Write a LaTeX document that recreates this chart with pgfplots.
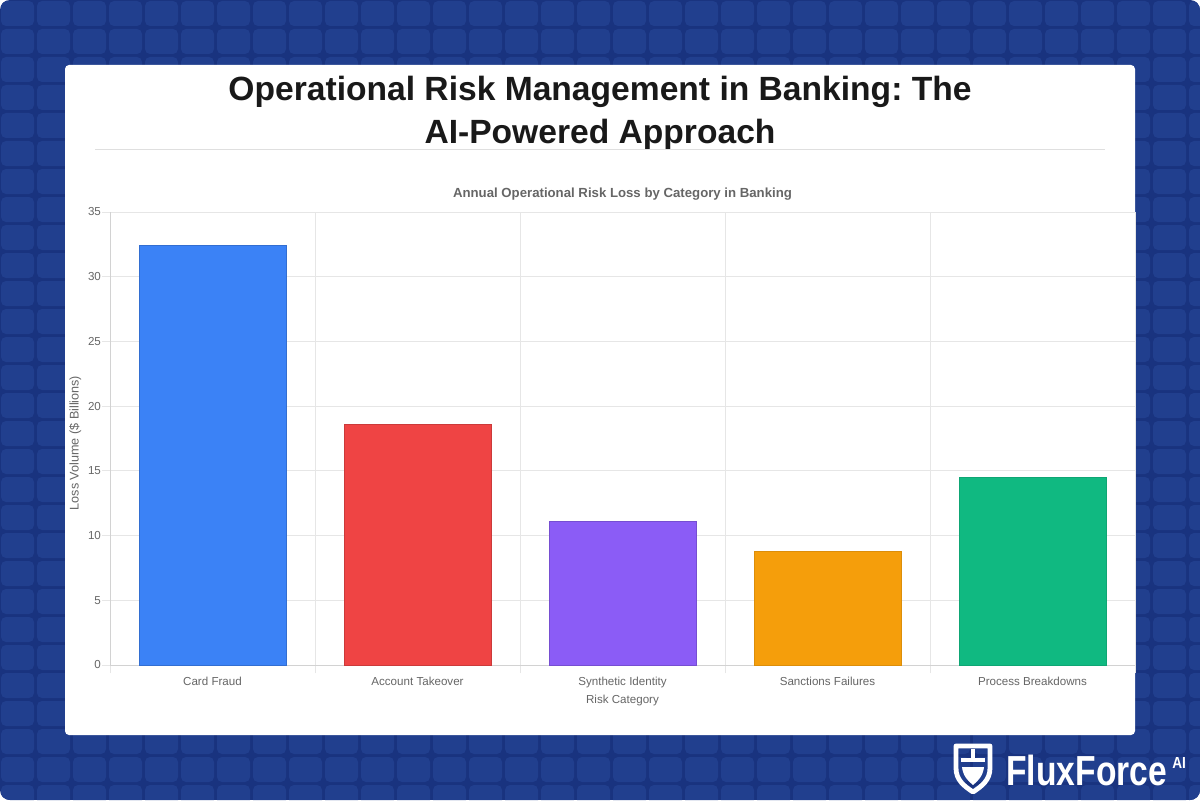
\documentclass[border=0pt]{standalone}
\usepackage{fontspec}
\setmainfont{Liberation Sans}
\usepackage{pgfplots}
\pgfplotsset{compat=1.18}
\definecolor{bgdark}{HTML}{19337F}
\definecolor{bgtile}{HTML}{213F8E}
\definecolor{cblue}{HTML}{3B82F6}
\definecolor{cred}{HTML}{EF4444}
\definecolor{cpurple}{HTML}{8B5CF6}
\definecolor{corange}{HTML}{F59E0B}
\definecolor{cgreen}{HTML}{10B981}
\definecolor{txtgray}{HTML}{666666}
\definecolor{gridgray}{HTML}{E6E6E6}
\frenchspacing
\begin{document}
\begin{tikzpicture}[x=0.5pt,y=0.5pt]
\useasboundingbox (0,0) rectangle (1200,800);
\fill[white] (0,0) rectangle (1200,800);
\begin{scope}
\clip[rounded corners=5pt] (0,0) rectangle (1200,800);
\fill[bgdark] (0,0) rectangle (1200,800);
\foreach \i in {0,...,33}{\foreach \j in {0,...,28}{
  \fill[bgtile, rounded corners=2.5pt] ({36*\i+1},{800-28*\j-1}) rectangle ++(33,-25);
}}
\end{scope}
\fill[white, rounded corners=2pt] (65,65) rectangle (1135,735);
\node[font=\bfseries\fontsize{16.8}{21.5}\selectfont, align=center, text=black!90] at (600,687) {Operational Risk Management in Banking: The\\AI-Powered Approach};
\draw[gray!25, line width=0.5pt] (95,651) -- (1105,651);
% logo
\begin{scope}[line width=2.4pt, white, line join=round]
\draw (956,54) -- (990,54) -- (990,32) .. controls (990,20) and (982,14) .. (973,8) .. controls (964,14) and (956,20) .. (956,32) -- cycle;
\draw (961,40) -- (985,40);
\draw (973,51) -- (973,38);
\fill (962,33) -- (984,33) .. controls (983,24) and (978,19) .. (973,15) .. controls (968,19) and (963,24) .. (962,33) -- cycle;
\end{scope}
\node[anchor=base west, inner sep=0pt, text=white, font=\bfseries\fontsize{21}{21}\selectfont] at (1006,15) {\scalebox{0.8}[1]{FluxForce}};
\node[anchor=base west, inner sep=0pt, text=white, font=\bfseries\fontsize{8}{8}\selectfont] at (1172,32) {\scalebox{0.85}[1]{AI}};
\begin{axis}[
  at={(55pt,67.5pt)}, anchor=south west,
  scale only axis, width=512.5pt, height=226.5pt,
  xmin=-0.5, xmax=4.5, ymin=0, ymax=35,
  ytick={0,5,...,35},
  xtick={0,1,2,3,4},
  xticklabels={Card Fraud, Account Takeover, Synthetic Identity, Sanctions Failures, Process Breakdowns},
  minor xtick={-0.5,0.5,1.5,2.5,3.5,4.5},
  ymajorgrids, xminorgrids,
  grid style={gridgray, line width=0.5pt},
  minor grid style={gridgray, line width=0.5pt},
  axis x line*=bottom, axis y line*=left,
  axis line style={gridgray!80!gray, line width=0.5pt},
  tick align=outside,
  major x tick style={draw=none},
  minor x tick style={gridgray, line width=0.5pt},
  major y tick style={gridgray, line width=0.5pt},
  major tick length=4pt, minor tick length=4pt,
  ticklabel style={font=\fontsize{5.8}{7}\selectfont, text=txtgray},
  /pgf/number format/assume math mode=true,
  xticklabel style={yshift=1.5pt},
  yticklabel style={xshift=3pt},
  ylabel={Loss Volume (\$ Billions)},
  xlabel={Risk Category},
  every axis y label/.style={at={(axis description cs:-0.034,0.49)}, rotate=90, anchor=center, font=\fontsize{6.3}{7}\selectfont, text=txtgray},
  every axis x label/.style={at={(axis description cs:0.5,-0.079)}, anchor=center, font=\fontsize{5.8}{7}\selectfont, text=txtgray},
  title={Annual Operational Risk Loss by Category in Banking},
  every axis title/.style={font=\bfseries\fontsize{6.6}{8}\selectfont, text=txtgray, at={(axis description cs:0.5,1.04)}, anchor=center},
  ybar, bar width=73.5pt, bar shift=0pt,
  clip=false,
]
\addplot[fill=cblue, draw=cblue!85!black, line width=0.5pt] coordinates {(0,32.4)};
\addplot[fill=cred, draw=cred!85!black, line width=0.5pt] coordinates {(1,18.6)};
\addplot[fill=cpurple, draw=cpurple!85!black, line width=0.5pt] coordinates {(2,11.1)};
\addplot[fill=corange, draw=corange!90!black, line width=0.5pt] coordinates {(3,8.8)};
\addplot[fill=cgreen, draw=cgreen!90!black, line width=0.5pt] coordinates {(4,14.5)};
\end{axis}
\end{tikzpicture}
\end{document}
